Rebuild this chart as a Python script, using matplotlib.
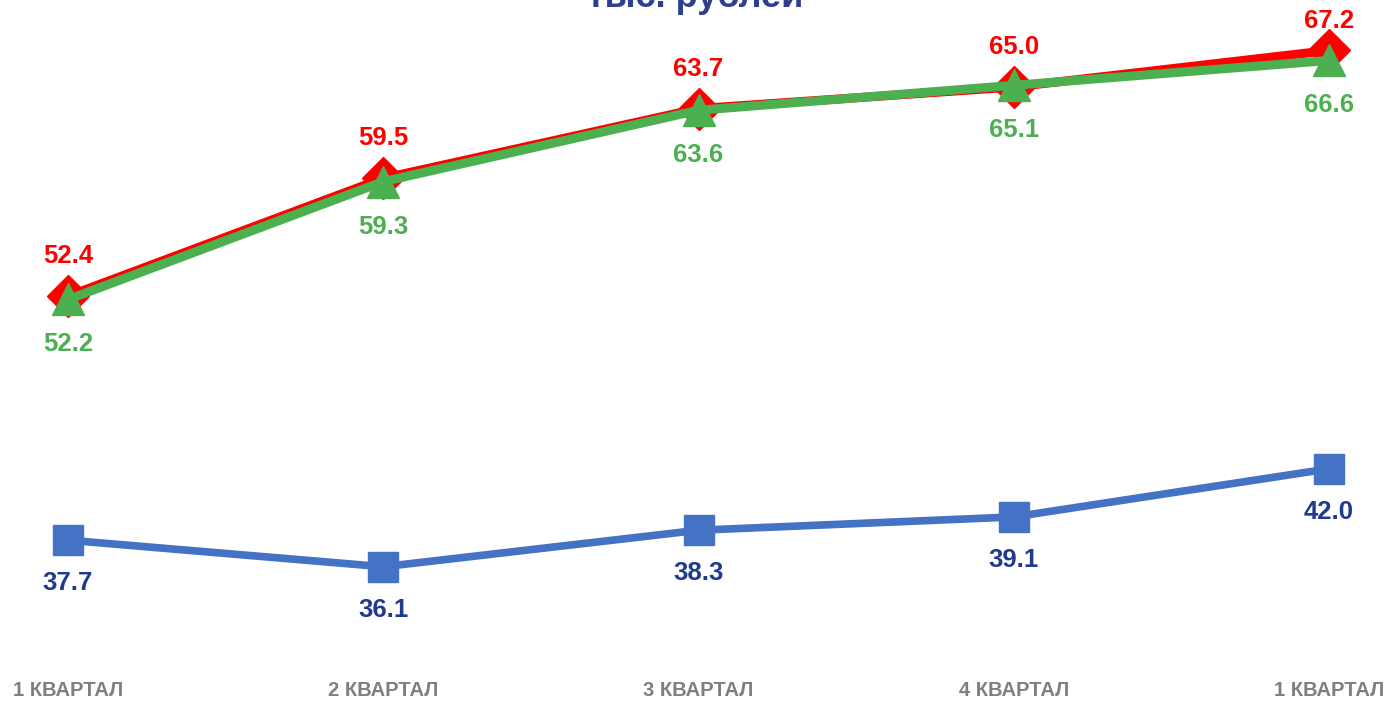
import matplotlib.pyplot as plt

categories = ["1 КВАРТАЛ", "2 КВАРТАЛ", "3 КВАРТАЛ", "4 КВАРТАЛ", "1 КВАРТАЛ"]
red_values = [52.4, 59.5, 63.7, 65.0, 67.2]
green_values = [52.2, 59.3, 63.6, 65.1, 66.6]
blue_values = [37.7, 36.1, 38.3, 39.1, 42.0]

plt.rcParams["font.family"] = ["Liberation Sans", "DejaVu Sans"]

W, H = 1390, 701
fig = plt.figure(figsize=(W / 100, H / 100), dpi=100)
# axes placed so that y=30 sits at 668 px and y=70 at 4 px
ax = fig.add_axes([5 / W, 1 - 668 / H, 1387 / W, 664 / H])
ax.set_xlim(-0.2, 4.2)
ax.set_ylim(30, 70)

x = list(range(len(categories)))

ax.plot(x, red_values, color="#FF0000", linewidth=6.5, marker="D",
        markersize=21, zorder=3)
ax.plot(x, green_values, color="#4CAF50", linewidth=6.5, marker="^",
        markersize=23, zorder=4)
ax.plot(x, blue_values, color="#4472C4", linewidth=5.5, marker="s",
        markersize=21, zorder=3)


def add_labels(values, offset_px, color):
    for xi, v in zip(x, values):
        px, py = ax.transData.transform((xi, v))
        ty = py + offset_px
        # keep labels inside the picture, as the source chart does
        ty = min(ty, H - 21)
        ax.text(px, ty, f"{v:.1f}", transform=None, ha="center", va="center",
                color=color, fontsize=18.5, fontweight="bold", zorder=5)


fig.canvas.draw()
add_labels(red_values, 40, "#FF0000")
add_labels(green_values, -45, "#4CAF50")
add_labels(blue_values, -43, "#1F3A8F")

ax.set_xticks(x)
ax.set_xticklabels(categories, fontsize=14.5, fontweight="bold", color="#7F7F7F")
ax.tick_params(axis="x", length=0, pad=9)
ax.set_yticks([])
for s in ax.spines.values():
    s.set_visible(False)

fig.text(0.5, 1 - 7 / H, "тыс. рублей", ha="center", va="baseline",
         fontsize=26, fontweight="bold", color="#2E3F8F")

plt.savefig("out.png", dpi=100)
